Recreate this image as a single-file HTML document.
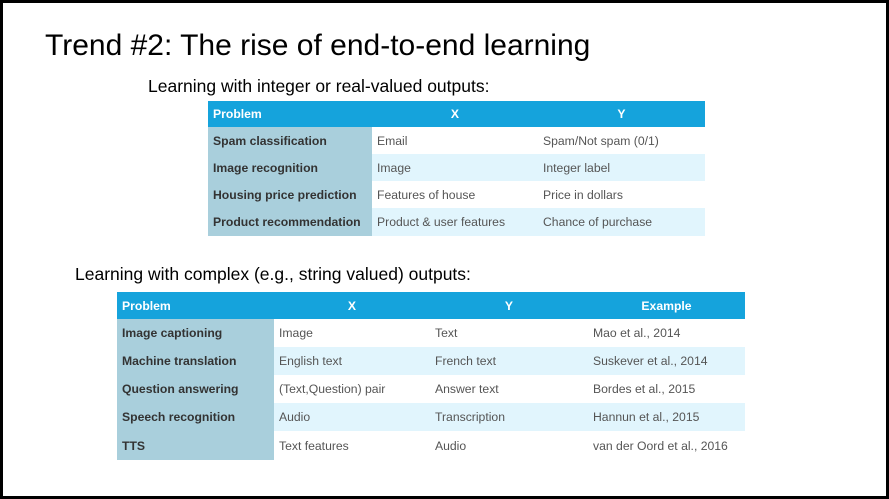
<!DOCTYPE html>
<html><head><style>
*{margin:0;padding:0;box-sizing:border-box}
body{width:889px;height:499px;background:#fff;font-family:"Liberation Sans",Arial,sans-serif;position:relative;overflow:hidden}
.frame{position:absolute;left:0;top:0;width:889px;height:499px;border:3px solid #000}
.t{position:absolute;white-space:nowrap;color:#000}
table{position:absolute;border-collapse:collapse;font-size:12.2px;color:#555}
td,th{padding:0 0 0 5px;text-align:left;white-space:nowrap}
th{background:#15a3dc;color:#fff;font-weight:bold}
th.c{text-align:center;padding:0}
td.p{background:#a9cfdc;color:#333;font-weight:bold}
tr.a td{background:#e1f5fd}
tr.a td.p{background:#a9cfdc}
</style></head><body>
<div class="frame"></div>
<div class="t" style="left:45px;top:29px;font-size:30px">Trend #2: The rise of end-to-end learning</div>
<div class="t" style="left:148px;top:76px;font-size:17.5px">Learning with integer or real-valued outputs:</div>
<table style="left:208px;top:101px;width:497px">
<tr style="height:26px"><th style="width:164px">Problem</th><th class="c" style="width:166px">X</th><th class="c">Y</th></tr>
<tr style="height:27px"><td class="p">Spam classification</td><td>Email</td><td>Spam/Not spam (0/1)</td></tr>
<tr class="a" style="height:27px"><td class="p">Image recognition</td><td>Image</td><td>Integer label</td></tr>
<tr style="height:27px"><td class="p">Housing price prediction</td><td>Features of house</td><td>Price in dollars</td></tr>
<tr class="a" style="height:28px"><td class="p">Product recommendation</td><td>Product &amp; user features</td><td>Chance of purchase</td></tr>
</table>
<div class="t" style="left:75px;top:264px;font-size:17.5px">Learning with complex (e.g., string valued) outputs:</div>
<table style="left:117px;top:292px;width:628px">
<tr style="height:27px"><th style="width:157px">Problem</th><th class="c" style="width:156px">X</th><th class="c" style="width:158px">Y</th><th class="c">Example</th></tr>
<tr style="height:28px"><td class="p">Image captioning</td><td>Image</td><td>Text</td><td>Mao et al., 2014</td></tr>
<tr class="a" style="height:28px"><td class="p">Machine translation</td><td>English text</td><td>French text</td><td>Suskever et al., 2014</td></tr>
<tr style="height:28px"><td class="p">Question answering</td><td>(Text,Question) pair</td><td>Answer text</td><td>Bordes et al., 2015</td></tr>
<tr class="a" style="height:28px"><td class="p">Speech recognition</td><td>Audio</td><td>Transcription</td><td>Hannun et al., 2015</td></tr>
<tr style="height:29px"><td class="p">TTS</td><td>Text features</td><td>Audio</td><td>van der Oord et al., 2016</td></tr>
</table>
</body></html>
